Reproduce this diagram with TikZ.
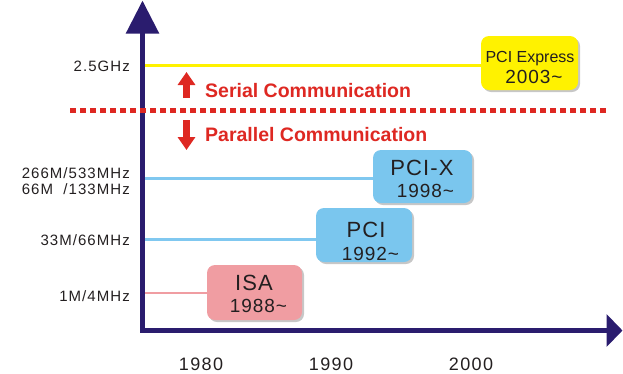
\documentclass[tikz,border=0pt]{standalone}
\usepackage{fontspec}
\setmainfont{Liberation Sans}
\newfontfamily\lblfont[LetterSpace=7]{Liberation Sans}
\newfontfamily\boxfont[LetterSpace=5]{Liberation Sans}
\newfontfamily\yearfont[LetterSpace=8]{Liberation Sans}
\usetikzlibrary{arrows.meta,shadows}
\definecolor{axisnavy}{RGB}{42,28,110}
\definecolor{ired}{RGB}{222,40,34}
\definecolor{iyellow}{RGB}{255,242,0}
\definecolor{iblue}{RGB}{122,198,238}
\definecolor{ilblue}{RGB}{128,200,240}
\definecolor{ipink}{RGB}{240,157,162}
\definecolor{itext}{RGB}{35,31,32}
\tikzset{
  boxstyle/.style={rounded corners=8pt, minimum width=96pt, minimum height=54pt, inner sep=0pt,
    drop shadow={shadow xshift=2pt, shadow yshift=-2pt, fill=black!22, opacity=1}},
  axislabel/.style={anchor=base east, inner sep=0pt, text=itext, font=\lblfont\fontsize{15}{18}\selectfont},
  yearlabel/.style={anchor=base, inner sep=0pt, text=itext, font=\yearfont\fontsize{18}{21}\selectfont},
  boxtitle/.style={anchor=base, inner sep=0pt, text=itext, font=\boxfont\fontsize{22}{26}\selectfont},
  boxyear/.style={anchor=base, inner sep=0pt, text=itext, font=\boxfont\fontsize{19}{22}\selectfont},
  commtext/.style={anchor=base west, inner sep=0pt, text=ired, font=\bfseries\fontsize{19.5}{23}\selectfont},
  redarrow/.style={draw=ired, line width=7pt, -{Triangle[length=13pt,width=17pt]}},
  dataline/.style={line width=3pt}
}
\begin{document}
\begin{tikzpicture}[x=1pt,y=-1pt]
\useasboundingbox (0,0) rectangle (623,373);

% data lines first (under axis)
\coordinate (yaxisfoot) at (142.5,330.5);
\coordinate (ytop) at (142.5,0.5);
\coordinate (xend) at (622.5,330.5);

% boxes
\node[boxstyle, fill=ipink, minimum width=95pt, minimum height=55pt] (isa) at (254.5,292.5) {};
\node[boxstyle, fill=iblue] (pci) at (364,235) {};
\node[boxstyle, fill=iblue, minimum width=99pt, minimum height=53pt] (pcix) at (422.5,176.5) {};
\node[boxstyle, fill=iyellow, minimum width=97pt] (pcie) at (529.5,63) {};

% box texts
\node[boxtitle] (isat) at (254,290) {ISA};
\node[boxyear] (isay) at (258.5,312.5) {1988\textasciitilde};
\node[boxtitle] (pcit) at (366,237) {PCI};
\node[boxyear] (pciy) at (370.5,260) {1992\textasciitilde};
\node[boxtitle] (pcixt) at (422,175) {PCI-X};
\node[boxyear] (pcixy) at (425.5,197) {1998\textasciitilde};
\node[anchor=base, inner sep=0pt, text=itext, font=\fontsize{16}{19}\selectfont] (pciet) at (530,62) {PCI Express};
\node[boxyear] (pciey) at (534,83) {2003\textasciitilde};

% lines from axis to boxes
\coordinate (lisa) at (145,293);
\coordinate (lpci) at (145,239);
\coordinate (lpcix) at (145,178);
\coordinate (lpcie) at (145,65);
\draw[dataline, draw=ipink, line width=2pt] (lisa) -- (lisa -| isa.west);
\draw[dataline, draw=ilblue] (lpci) -- (lpci -| pci.west);
\draw[dataline, draw=ilblue] (lpcix) -- (lpcix -| pcix.west);
\draw[dataline, draw=iyellow] (lpcie) -- (lpcie -| pcie.west);

% axes
\draw[axisnavy, line width=5.5pt, line join=miter,
  {Triangle[length=33pt,width=32pt]}-{Triangle[length=16pt,width=32pt]}]
  (ytop) |- (xend);

% axis labels
\node[axislabel] (l25) at (130,71) {2.5GHz};
\node[axislabel] (l266) at (130,178) {266M/533MHz};
\node[axislabel] (l66) at (130,194.5) {66M\ \ /133MHz};
\node[axislabel] (l33) at (130,245) {33M/66MHz};
\node[axislabel] (l1) at (130,301.5) {1M/4MHz};

% x-axis years
\node[yearlabel] (y1980) at (201,370) {1980};
\node[yearlabel] (y1990) at (331,370) {1990};
\node[yearlabel] (y2000) at (471,370) {2000};

% dotted divider
\coordinate (dl) at (70,110);
\coordinate (dr) at (607,110);
\draw[ired, line width=5pt, dash pattern=on 5.5pt off 4.5pt] (dl) -- (dr);

% serial / parallel
\coordinate (ua) at (186.5,98);
\coordinate (ub) at (186.5,72);
\coordinate (da) at (186.5,120);
\coordinate (db) at (186.5,150);
\draw[redarrow] (ua) -- (ub);
\draw[redarrow] (da) -- (db);
\node[commtext] (serial) at (205,97.5) {Serial Communication};
\node[commtext] (parallel) at (205,141.5) {Parallel Communication};
\end{tikzpicture}
\end{document}
